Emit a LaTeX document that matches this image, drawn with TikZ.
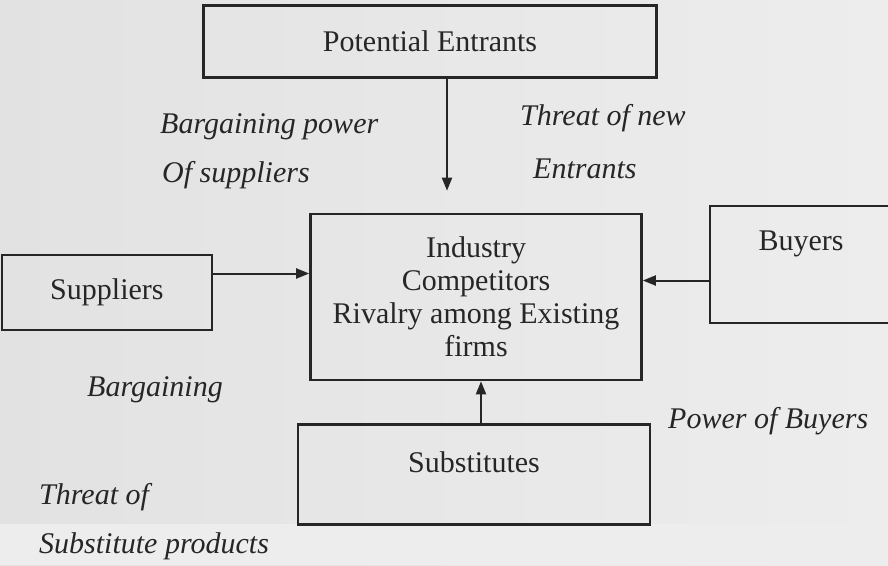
\documentclass[tikz,border=0pt]{standalone}
\usepackage{fontspec}
\setmainfont{Liberation Serif}
\usepackage{tikz}
\usetikzlibrary{shapes, arrows.meta, positioning}
\definecolor{paper}{RGB}{226,226,226}
\definecolor{paperlight}{RGB}{237,237,237}
\definecolor{ink}{RGB}{38,38,38}
\tikzset{
  forcenode/.style={draw=ink, line width=2.6pt, rectangle, align=center, text=ink, font=\fontsize{30}{33}\selectfont},
  labelnode/.style={anchor=base west, inner sep=0pt, text=ink, font=\fontsize{30}{33}\selectfont\itshape},
  arrow/.style={-{Triangle[length=13pt, width=10pt]}, line width=2pt, draw=ink}
}

\begin{document}
\begin{tikzpicture}[x=1pt, y=-1pt]

% Paper
\shade[left color=paper, right color=paperlight] (0,0) rectangle (888,565);
\fill[paperlight] (0,524) rectangle (888,565);
\useasboundingbox (0,0) rectangle (888,565);

% Nodes
\node[forcenode, minimum width=331pt, minimum height=166pt] (IC) at (476,297) {Industry\\Competitors\\Rivalry among Existing\\firms};
\node[forcenode, minimum width=453pt, minimum height=72pt, above=134pt of IC, xshift=-46pt] (PE) {Potential Entrants};
\node[forcenode, minimum width=210pt, minimum height=75pt, left=96pt of IC, yshift=4.5pt] (SU) {Suppliers};
\node[forcenode, minimum width=182pt, inner ysep=0pt, text height=44pt, text depth=73pt, right=66pt of IC, yshift=32.5pt] (BU) {Buyers};
\node[forcenode, minimum width=352pt, inner ysep=0pt, text height=48pt, text depth=52pt, below=42pt of IC, xshift=-2pt] (SB) {Substitutes};

% Labels
\node[labelnode] (BP) at (160,133) {Bargaining power};
\node[labelnode] (OS) at (162,182) {Of suppliers};
\node[labelnode] (TN) at (520,125) {Threat of new};
\node[labelnode] (EN) at (533,178) {Entrants};
\node[labelnode] (BG) at (87,396) {Bargaining};
\node[labelnode] (PB) at (668,428) {Power of Buyers};
\node[labelnode] (TO) at (39,504) {Threat of};
\node[labelnode] (SP) at (39,553) {Substitute products};

% Connections
\draw[arrow, shorten >=22pt] ([xshift=17pt]PE.south) -- ([xshift=17pt]PE.south |- IC.north);
\draw[arrow] ([yshift=19pt]SU.east) -- ([yshift=19pt]SU.east -| IC.west);
\draw[arrow] ([yshift=-16pt]BU.west) -- ([yshift=-16pt]BU.west -| IC.east);
\draw[arrow] ([xshift=7pt]SB.north) -- ([xshift=7pt]SB.north |- IC.south);

\end{tikzpicture}
\end{document}
